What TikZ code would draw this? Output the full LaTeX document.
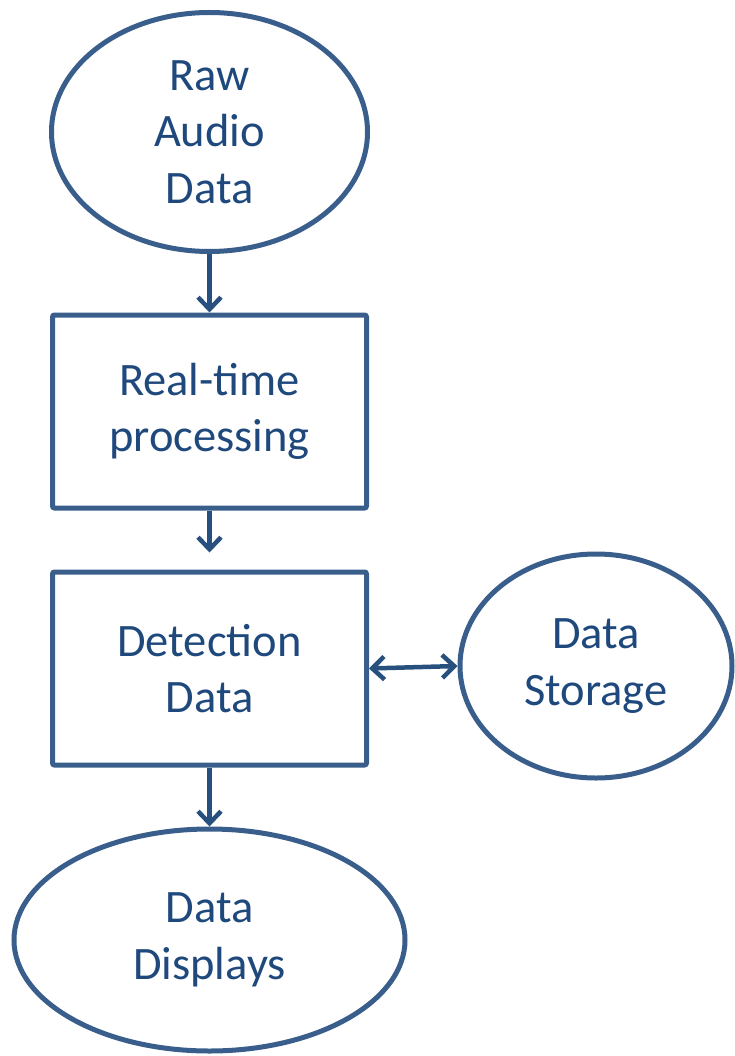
\documentclass[tikz,border=0pt]{standalone}
\usepackage{fontspec}
\setmainfont{Carlito}
\usetikzlibrary{shapes.geometric,arrows.meta}
\definecolor{edgeblue}{HTML}{3A5E8C}
\definecolor{arrowblue}{HTML}{28507F}
\definecolor{textblue}{HTML}{1F497D}
\tikzset{
  shapebase/.style={draw=edgeblue, line width=5pt, inner sep=0pt, text=textblue,
    align=center, font=\fontsize{46.5}{56.7}\selectfont},
  oval/.style={shapebase, ellipse},
  procbox/.style={shapebase, rectangle, rounded corners=2pt},
  barb/.style={Straight Barb[length=12pt,width=23pt,line width=4.5pt]},
  flow/.style={draw=arrowblue, line width=4.5pt, -{Straight Barb[length=12pt,width=23pt,line width=4.5pt]}},
  flowboth/.style={draw=arrowblue, line width=4.5pt,
    {Straight Barb[length=12pt,width=23pt,line width=4.5pt]}-{Straight Barb[length=12pt,width=23pt,line width=4.5pt]}}
}
\begin{document}
\begin{tikzpicture}[x=1pt,y=-1pt]
  \useasboundingbox (0,0) rectangle (734,1056);
  \node[oval, minimum width=316pt, minimum height=239pt] (raw) at (209.5,132) {Raw\\Audio\\Data};
  \node[procbox, minimum width=314pt, minimum height=193pt] (rt) at (209.5,411.5) {Real-time\\processing};
  \node[procbox, minimum width=314pt, minimum height=193pt] (det) at (209.5,668.5) {Detection\\Data};
  \node[oval, minimum width=272pt, minimum height=224pt] (store) at (596,666) {Data\\Storage};
  \node[oval, minimum width=391pt, minimum height=222pt] (disp) at (209.5,940) {Data\\Displays};

  \draw[flow] (raw.south) -- (rt.north);
  \draw[flow, shorten >=17pt] (rt.south) -- (det.north);
  \draw[flow] (det.south) -- (disp.north);
  \draw[flowboth] (det.east) -- (store.west);
\end{tikzpicture}
\end{document}
